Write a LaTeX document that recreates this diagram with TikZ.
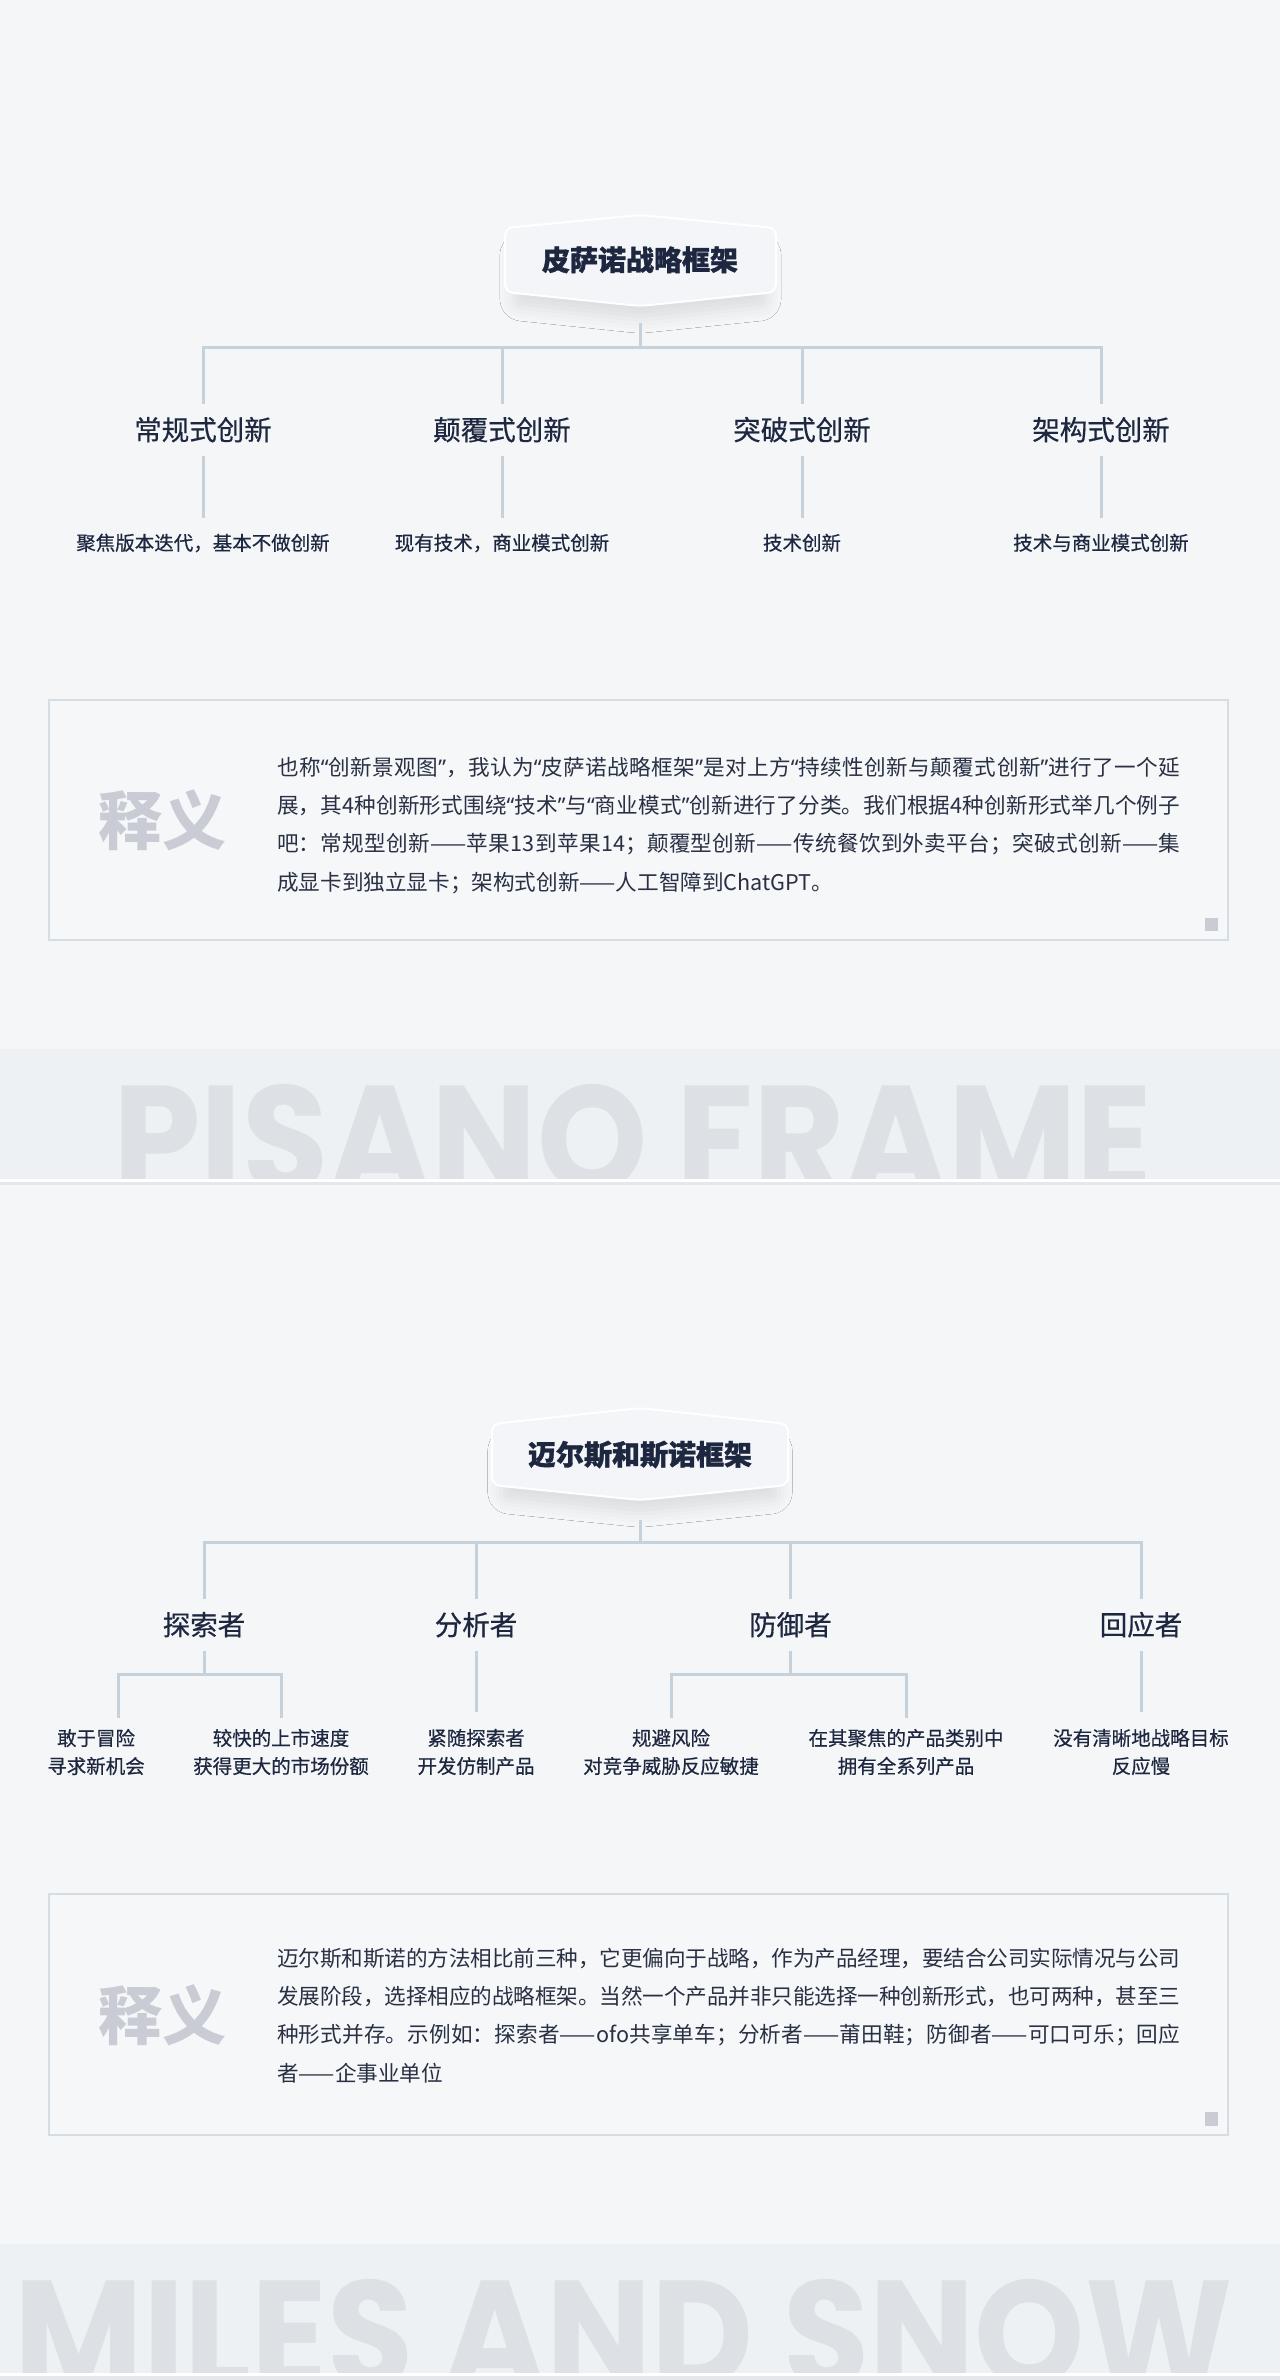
\documentclass[tikz,border=0pt]{standalone}
\usepackage{fontspec}
\setmainfont{Noto Sans CJK SC}
\newfontfamily\headfont{Noto Sans CJK SC}[FakeBold=0.5]
\newfontfamily\titlefont{Noto Sans CJK SC}[BoldFeatures={FakeBold=1.2}]
\newfontfamily\bandfont{Poppins}
\newfontfamily\quotefont{Noto Sans}
\usetikzlibrary{shadows.blur}

\XeTeXlinebreaklocale "zh"
\XeTeXlinebreakskip=0pt plus 2pt minus 0.5pt

\definecolor{pagebg}{HTML}{F4F6F8}
\definecolor{bandbg}{HTML}{EEF1F4}
\definecolor{bandtxt}{HTML}{DDE0E4}
\definecolor{bandrule}{HTML}{E4E7EB}
\definecolor{inkdark}{HTML}{1E2740}
\definecolor{paratext}{HTML}{2A3044}
\definecolor{linkcol}{HTML}{C5D2DC}
\definecolor{boxline}{HTML}{D5DDE4}
\definecolor{boxfill}{HTML}{F5F7F9}
\definecolor{glyphgray}{HTML}{C9CCD4}
\definecolor{titlefill}{HTML}{F3F5F8}

\newcommand{\lquo}{{\quotefont “}}
\newcommand{\rquo}{{\quotefont ”}}

\tikzset{
  link/.style={draw=linkcol, line width=3pt},
  titleshape/.style={fill=titlefill, draw=white, line width=2pt, rounded corners=8pt,
    blur shadow={shadow xshift=0pt, shadow yshift=-18pt, shadow scale=0.94,
      shadow blur radius=14pt, shadow opacity=9}},
  titletext/.style={font=\titlefont\fontsize{28}{28}\selectfont\bfseries, text=inkdark,
    text height=23pt, text depth=2.2pt, inner sep=0pt, minimum height=64pt},
  kind/.style={font=\headfont\fontsize{27.5}{27.5}\selectfont, text=inkdark,
    text height=22.5pt, text depth=2.2pt, inner xsep=0pt, inner ysep=13pt},
  note/.style={font=\headfont\fontsize{19.5}{19.5}\selectfont, text=inkdark,
    text height=16pt, text depth=1.6pt, inner xsep=0pt, inner ysep=16pt},
  notetwo/.style={font=\headfont\fontsize{19.5}{28}\selectfont, text=inkdark, align=center,
    inner xsep=0pt, inner ysep=11pt},
  notebox/.style={draw=boxline, line width=1.5pt, fill=boxfill},
  marker/.style={fill=glyphgray},
  gloss/.style={font=\fontsize{64}{64}\selectfont\bfseries, text=glyphgray, inner sep=0pt},
  para/.style={font=\fontsize{21.6}{38.3}\selectfont, text=paratext, text width=903pt,
    align=justify, inner sep=0pt, anchor=base west},
  bandword/.style={font=\bandfont\bfseries\fontsize{152}{152}\selectfont, text=bandtxt,
    inner sep=0pt, anchor=base}
}

\begin{document}
\begin{tikzpicture}[x=1pt,y=-1pt]
   \useasboundingbox (0,0) rectangle (1280,2380);
   \fill[pagebg] (0,0) rectangle (1280,2380);

   % Pisano
   \draw[titleshape] (505,228) -- (640,215) -- (776,228) -- (776,292) -- (640,306) -- (505,292) -- cycle;
   \node[titletext] (pisano) at (640,260) {皮萨诺战略框架};
   \coordinate (pbar) at (640,347);

   \node[kind] (routine)   at ( 203,430) {常规式创新};
   \node[kind] (disrupt)   at ( 502,430) {颠覆式创新};
   \node[kind] (radical)   at ( 802,430) {突破式创新};
   \node[kind] (architect) at (1101,430) {架构式创新};

   \node[note] (routinenote)   at ( 203,543) {聚焦版本迭代，基本不做创新};
   \node[note] (disruptnote)   at ( 502,543) {现有技术，商业模式创新};
   \node[note] (radicalnote)   at ( 802,543) {技术创新};
   \node[note] (architectnote) at (1101,543) {技术与商业模式创新};

   \draw[link, shorten <=31pt] (pisano) -- (pbar);
   \draw[link] (pbar) -| (routine.north);
   \draw[link] (pbar) -| (disrupt.north);
   \draw[link] (pbar) -| (radical.north);
   \draw[link] (pbar) -| (architect.north);
   \draw[link] (routine)   -- (routinenote);
   \draw[link] (disrupt)   -- (disruptnote);
   \draw[link] (radical)   -- (radicalnote);
   \draw[link] (architect) -- (architectnote);

   \draw[notebox] (49,700) rectangle (1228,940);
   \fill[marker] (1205,918) rectangle (1218,931);
   \node[gloss] (glossone) at (162,820) {释义};
   \node[para] (paraone) at (277,775.2) {也称\lquo 创新景观图\rquo ，我认为\lquo 皮萨诺战略框架\rquo 是对上方\lquo 持续性创新与颠覆式创新\rquo 进行了一个延\linebreak%
展，其4种创新形式围绕\lquo 技术\rquo 与\lquo 商业模式\rquo 创新进行了分类。我们根据4种创新形式举几个例子\linebreak%
吧：常规型创新——苹果13到苹果14；颠覆型创新——传统餐饮到外卖平台；突破式创新——集\linebreak%
成显卡到独立显卡；架构式创新——人工智障到ChatGPT。};

   \fill[bandbg] (0,1049) rectangle (1280,1179);
   \begin{scope}
      \clip (0,1049) rectangle (1280,1179);
      \node[bandword] (bandone) at (633,1192) {\scalebox{0.922}[1]{PISANO FRAME}};
   \end{scope}
   \fill[white]    (0,1179) rectangle (1280,1182);
   \fill[bandrule] (0,1182) rectangle (1280,1185);

   % Miles and Snow
   \draw[titleshape] (492,1424) -- (640,1408) -- (788,1424) -- (788,1485) -- (640,1500) -- (492,1485) -- cycle;
   \node[titletext, minimum height=61pt] (miles) at (640,1454.5) {迈尔斯和斯诺框架};
   \coordinate (mbar) at (640,1542);

   \node[kind] (prospector) at ( 204,1625) {探索者};
   \node[kind] (analyzer)   at ( 476,1625) {分析者};
   \node[kind] (defender)   at (790.5,1625) {防御者};
   \node[kind] (reactor)    at (1141,1625) {回应者};

   \coordinate (prospectorfork) at (204,1674);
   \coordinate (defenderfork)   at (790.5,1674);

   \node[notetwo] (prospectora) at (  96,1752) {敢于冒险\\寻求新机会};
   \node[notetwo] (prospectorb) at ( 281,1752) {较快的上市速度\\获得更大的市场份额};
   \node[notetwo] (analyzernote) at ( 476,1752) {紧随探索者\\开发仿制产品};
   \node[notetwo] (defendera)   at ( 671,1752) {规避风险\\对竞争威胁反应敏捷};
   \node[notetwo] (defenderb)   at ( 906,1752) {在其聚焦的产品类别中\\拥有全系列产品};
   \node[notetwo] (reactornote) at (1141,1752) {没有清晰地战略目标\\反应慢};

   \draw[link, shorten <=35pt] (miles) -- (mbar);
   \draw[link] (mbar) -| (prospector.north);
   \draw[link] (mbar) -| (analyzer.north);
   \draw[link] (mbar) -| (defender.north);
   \draw[link] (mbar) -| (reactor.north);
   \draw[link] (prospector) -- (prospectorfork);
   \draw[link] (prospectorfork) -| ([xshift=22pt]prospectora.north);
   \draw[link] (prospectorfork) -| (prospectorb.north);
   \draw[link] (defender) -- (defenderfork);
   \draw[link] (defenderfork) -| (defendera.north);
   \draw[link] (defenderfork) -| (defenderb.north);
   \draw[link, shorten >=6pt] (analyzer) -- (analyzernote);
   \draw[link, shorten >=6pt] (reactor)  -- (reactornote);

   \draw[notebox] (49,1894) rectangle (1228,2135);
   \fill[marker] (1205,2112) rectangle (1218,2126);
   \node[gloss] (glosstwo) at (162,2015) {释义};
   \node[para] (paratwo) at (277,1966.2) {迈尔斯和斯诺的方法相比前三种，它更偏向于战略，作为产品经理，要结合公司实际情况与公司\linebreak%
发展阶段，选择相应的战略框架。当然一个产品并非只能选择一种创新形式，也可两种，甚至三\linebreak%
种形式并存。示例如：探索者——ofo共享单车；分析者——莆田鞋；防御者——可口可乐；回应\linebreak%
者——企事业单位};

   \fill[bandbg] (0,2244) rectangle (1280,2373);
   \begin{scope}
      \clip (0,2244) rectangle (1280,2373);
      \node[bandword] (bandtwo) at (623.5,2387) {\scalebox{0.922}[1]{MILES AND SNOW}};
   \end{scope}
   \fill[white]    (0,2373) rectangle (1280,2376);
   \fill[bandrule] (0,2376) rectangle (1280,2380);
\end{tikzpicture}
\end{document}
